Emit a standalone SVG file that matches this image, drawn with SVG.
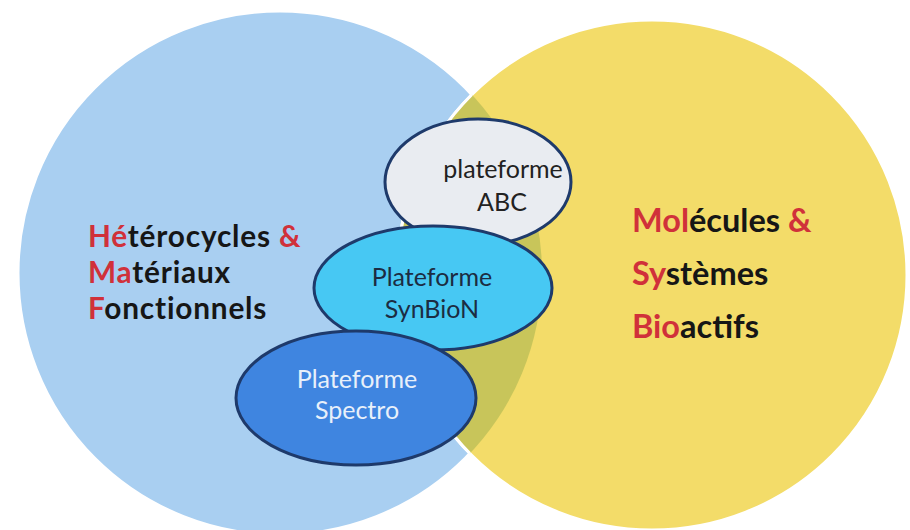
<svg xmlns="http://www.w3.org/2000/svg" width="910" height="530" viewBox="0 0 910 530">
  <defs>
    <clipPath id="blueClip">
      <circle cx="280" cy="273" r="262"/>
    </clipPath>
    <style>
      .label { font-family: Lato, "Liberation Sans", sans-serif; }
      .side { font-size: 32.5px; font-weight: 700; fill: #161616; }
      .tight { font-size: 29.8px; letter-spacing: 0.8px; }
      .red { fill: #d0313a; }
      .plat { font-size: 25px; font-weight: 400; text-anchor: middle; }
      .oval { stroke: #1e3a6b; stroke-width: 3; }
      .domain { stroke: #ffffff; stroke-width: 3; }
    </style>
  </defs>

  <rect width="910" height="530" fill="#ffffff"/>

  <!-- Two research domains -->
  <g id="domain-hmf">
    <circle class="domain" cx="280" cy="273" r="262" fill="#a9cff1"/>
  </g>
  <g id="domain-msb">
    <circle class="domain" cx="652" cy="275" r="255" fill="#f3dc69"/>
  </g>
  <!-- shared zone of the two domains -->
  <g id="domain-overlap" clip-path="url(#blueClip)">
    <circle class="domain" cx="652" cy="275" r="255" fill="#c8c55a"/>
  </g>

  <!-- Domain titles -->
  <g id="title-hmf" class="label side tight">
    <text x="88" y="247"><tspan class="red">Hé</tspan>térocycles <tspan class="red">&amp;</tspan></text>
    <text x="88" y="283"><tspan class="red">Ma</tspan>tériaux</text>
    <text x="88" y="319"><tspan class="red">F</tspan>onctionnels</text>
  </g>
  <g id="title-msb" class="label side">
    <text x="632" y="232"><tspan class="red">Mol</tspan>écules <tspan class="red">&amp;</tspan></text>
    <text x="632" y="285"><tspan class="red">Sy</tspan>stèmes</text>
    <text x="632" y="338"><tspan class="red">Bio</tspan>actifs</text>
  </g>

  <!-- Platforms -->
  <g id="platform-abc">
    <ellipse class="oval" cx="478" cy="182" rx="93" ry="63" fill="#e9ecf1"/>
    <text class="label plat" x="503" y="178" fill="#222222">plateforme</text>
    <text class="label plat" x="502" y="211" fill="#222222">ABC</text>
  </g>
  <g id="platform-synbion">
    <ellipse class="oval" cx="433" cy="288" rx="119" ry="62" fill="#47c8f3"/>
    <text class="label plat" x="432" y="286" fill="#1c2c42">Plateforme</text>
    <text class="label plat" x="432" y="318" fill="#1c2c42">SynBioN</text>
  </g>
  <g id="platform-spectro">
    <ellipse class="oval" cx="356" cy="398" rx="120" ry="67" fill="#3f85e0"/>
    <text class="label plat" x="357" y="388" fill="#e8f0fa">Plateforme</text>
    <text class="label plat" x="357" y="419" fill="#e8f0fa">Spectro</text>
  </g>
</svg>
